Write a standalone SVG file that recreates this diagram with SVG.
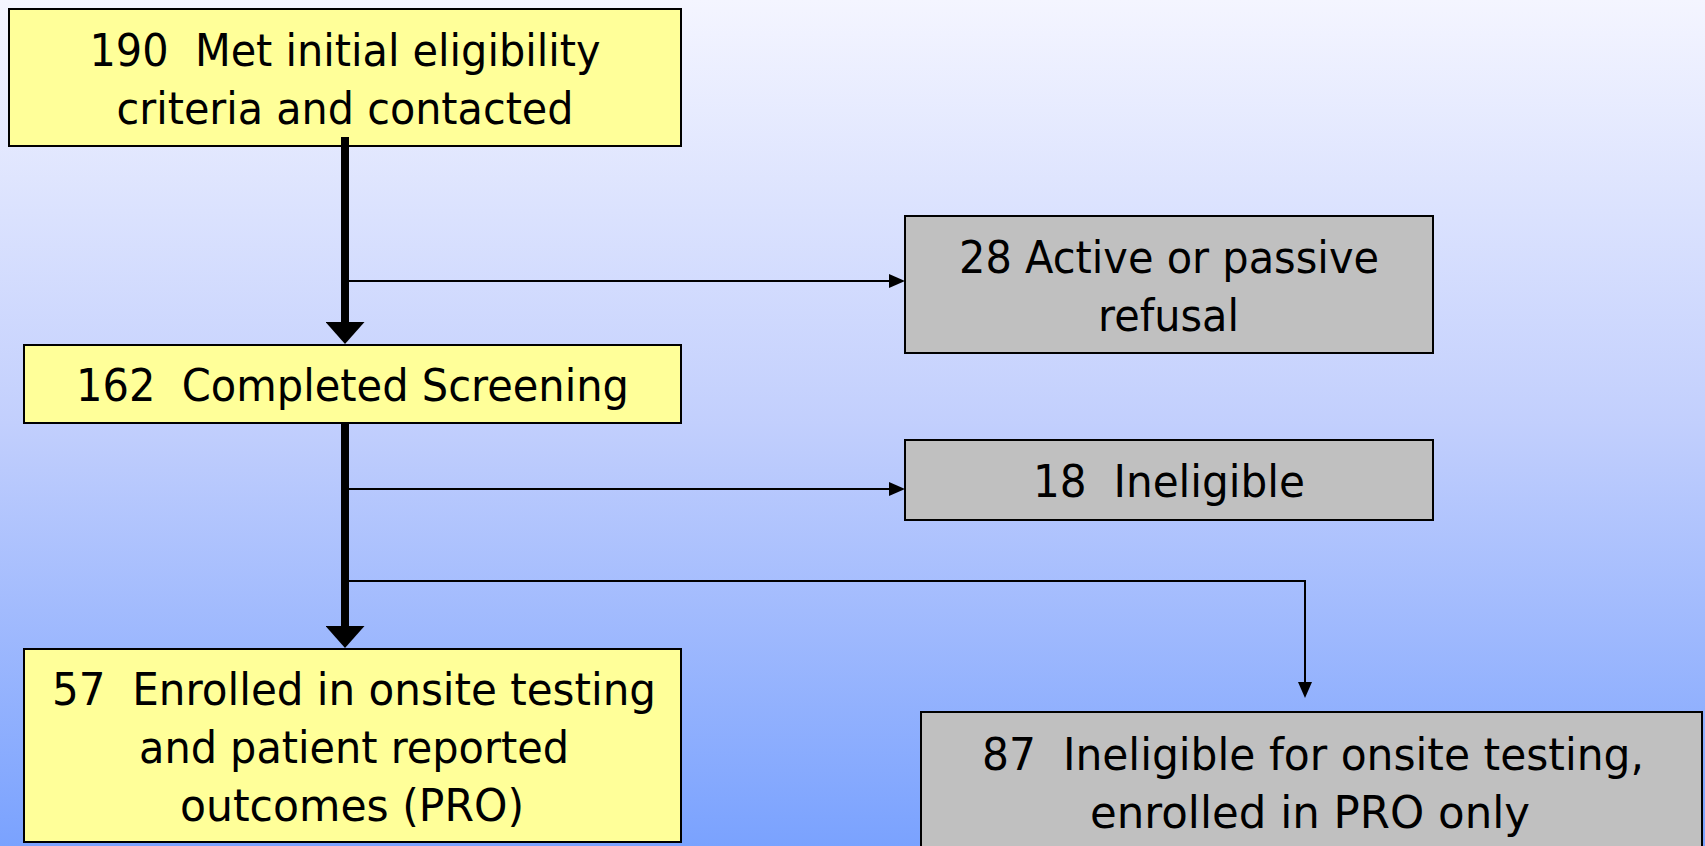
<svg xmlns="http://www.w3.org/2000/svg" width="1705" height="846" viewBox="0 0 1705 846">
  <defs>
    <linearGradient id="bg" x1="0" y1="0" x2="0" y2="1">
      <stop offset="0" stop-color="#f4f5ff"/>
      <stop offset="0.5" stop-color="#c2cffd"/>
      <stop offset="1" stop-color="#7aa2fe"/>
    </linearGradient>
    <marker id="thinArrow" viewBox="0 0 16 14" refX="0" refY="7" markerWidth="16" markerHeight="14" markerUnits="userSpaceOnUse" orient="auto">
      <path d="M0,0 L16,7 L0,14 z" fill="#000"/>
    </marker>
    <marker id="thickArrow" viewBox="0 0 22 39" refX="0" refY="19.5" markerWidth="22" markerHeight="39" markerUnits="userSpaceOnUse" orient="auto">
      <path d="M0,0 L22,19.5 L0,39 z" fill="#000"/>
    </marker>
  </defs>
  <style>
    .yel { fill: #ffff99; stroke: #000; stroke-width: 2; }
    .gry { fill: #c0c0c0; stroke: #000; stroke-width: 2; }
    .t { font-family: "DejaVu Sans", Verdana, sans-serif; font-size: 45px; fill: #000; text-anchor: middle; }
    .thick { stroke: #000; stroke-width: 8; fill: none; }
    .thin { stroke: #000; stroke-width: 2; fill: none; }
  </style>
  <rect x="0" y="0" width="1705" height="846" fill="url(#bg)"/>

  <g id="node-190">
    <rect class="yel" x="9" y="9" width="672" height="137"/>
    <text class="t" xml:space="preserve" x="345" y="66" textLength="511" lengthAdjust="spacingAndGlyphs">190  Met initial eligibility</text>
    <text class="t" xml:space="preserve" x="345" y="124" textLength="457" lengthAdjust="spacingAndGlyphs">criteria and contacted</text>
  </g>
  <g id="node-162">
    <rect class="yel" x="24" y="345" width="657" height="78"/>
    <text class="t" xml:space="preserve" x="352.5" y="401" textLength="553" lengthAdjust="spacingAndGlyphs">162  Completed Screening</text>
  </g>
  <g id="node-57">
    <rect class="yel" x="24" y="649" width="657" height="193"/>
    <text class="t" xml:space="preserve" x="354" y="705" textLength="604" lengthAdjust="spacingAndGlyphs">57  Enrolled in onsite testing</text>
    <text class="t" xml:space="preserve" x="354" y="763" textLength="430" lengthAdjust="spacingAndGlyphs">and patient reported</text>
    <text class="t" xml:space="preserve" x="352" y="821" textLength="344" lengthAdjust="spacingAndGlyphs">outcomes (PRO)</text>
  </g>
  <g id="node-28">
    <rect class="gry" x="905" y="216" width="528" height="137"/>
    <text class="t" xml:space="preserve" x="1169" y="273" textLength="420" lengthAdjust="spacingAndGlyphs">28 Active or passive</text>
    <text class="t" xml:space="preserve" x="1168.5" y="331" textLength="141" lengthAdjust="spacingAndGlyphs">refusal</text>
  </g>
  <g id="node-18">
    <rect class="gry" x="905" y="440" width="528" height="80"/>
    <text class="t" xml:space="preserve" x="1169" y="497" textLength="272" lengthAdjust="spacingAndGlyphs">18  Ineligible</text>
  </g>
  <g id="node-87">
    <rect class="gry" x="921" y="712" width="781" height="160"/>
    <text class="t" xml:space="preserve" x="1313" y="770" textLength="662" lengthAdjust="spacingAndGlyphs">87  Ineligible for onsite testing,</text>
    <text class="t" xml:space="preserve" x="1310" y="828" textLength="440" lengthAdjust="spacingAndGlyphs">enrolled in PRO only</text>
  </g>

  <g id="connectors">
    <line class="thick" x1="345" y1="137" x2="345" y2="322" marker-end="url(#thickArrow)"/>
    <line class="thick" x1="345" y1="423" x2="345" y2="626" marker-end="url(#thickArrow)"/>
    <line class="thin" x1="345" y1="281" x2="889" y2="281" marker-end="url(#thinArrow)"/>
    <line class="thin" x1="345" y1="489" x2="889" y2="489" marker-end="url(#thinArrow)"/>
    <polyline class="thin" points="345,581 1305,581 1305,682" marker-end="url(#thinArrow)"/>
  </g>
</svg>
